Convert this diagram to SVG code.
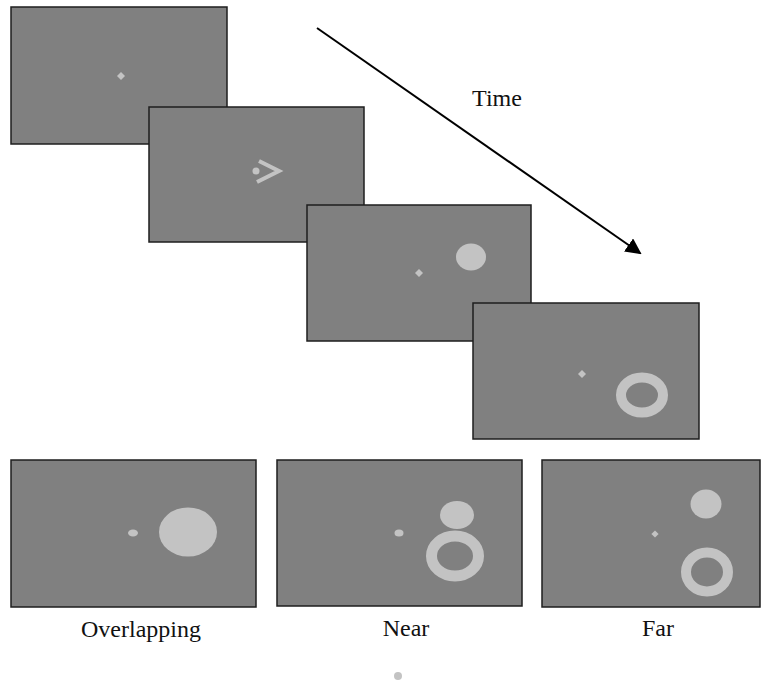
<svg xmlns="http://www.w3.org/2000/svg" width="761" height="681" viewBox="0 0 761 681">
  <style>
    .screen { fill: #808080; stroke: #1e1e1e; stroke-width: 1.5; }
    .stim { fill: #c3c3c3; }
    .ring { fill: none; stroke: #c3c3c3; }
    .label { font-family: "Liberation Serif", "Times New Roman", serif; font-size: 24px; fill: #111; text-anchor: middle; }
  </style>
  <defs>
    <marker id="arrowhead" markerWidth="8" markerHeight="8" refX="7" refY="4" orient="auto" markerUnits="strokeWidth">
      <path d="M0,0 L8,4 L0,8 Z" fill="#000"/>
    </marker>
    <path id="fix" d="M0,-4 L4,0 L0,4 L-4,0 Z"/>
  </defs>
  <rect width="761" height="681" fill="#fff"/>

  <!-- time-sequence screens -->
  <g id="screen-fixation">
    <rect class="screen" x="11" y="7" width="216" height="137"/>
    <use href="#fix" class="stim" x="121" y="76"/>
  </g>
  <g id="screen-cue">
    <rect class="screen" x="149" y="107" width="215" height="135"/>
    <circle class="stim" cx="256" cy="171" r="3.5"/>
    <polyline points="259,161 279,171 257,182" fill="none" stroke="#c3c3c3" stroke-width="4"/>
  </g>
  <g id="screen-disk">
    <rect class="screen" x="307" y="205" width="224" height="136"/>
    <use href="#fix" class="stim" x="419" y="273"/>
    <ellipse class="stim" cx="471" cy="257" rx="15" ry="13.5"/>
  </g>
  <g id="screen-ring">
    <rect class="screen" x="473" y="303" width="226" height="136"/>
    <use href="#fix" class="stim" x="582" y="374"/>
    <ellipse class="ring" cx="642" cy="395" rx="21" ry="17.5" stroke-width="10"/>
  </g>

  <!-- conditions -->
  <g id="cond-overlapping">
    <rect class="screen" x="11" y="460" width="245" height="147"/>
    <ellipse class="stim" cx="133" cy="533" rx="5" ry="3.5"/>
    <ellipse class="stim" cx="188" cy="532" rx="29" ry="24.5"/>
    <text class="label" x="141" y="637">Overlapping</text>
  </g>
  <g id="cond-near">
    <rect class="screen" x="277" y="460" width="245" height="146"/>
    <ellipse class="stim" cx="399" cy="533" rx="4.5" ry="3.5"/>
    <ellipse class="stim" cx="457" cy="515" rx="17" ry="14"/>
    <ellipse class="ring" cx="455" cy="556" rx="23.5" ry="20" stroke-width="11"/>
    <text class="label" x="406" y="636">Near</text>
  </g>
  <g id="cond-far">
    <rect class="screen" x="542" y="460" width="218" height="147"/>
    <use href="#fix" class="stim" x="655" y="534" transform="translate(655 534) scale(0.9) translate(-655 -534)"/>
    <ellipse class="stim" cx="706" cy="504" rx="15.5" ry="14.5"/>
    <ellipse class="ring" cx="707" cy="572" rx="21" ry="19.5" stroke-width="10"/>
    <text class="label" x="658" y="636">Far</text>
  </g>

  <g id="stray-dot">
    <circle class="stim" cx="398" cy="676" r="4"/>
  </g>

  <!-- time axis -->
  <g id="connectors">
    <line x1="317" y1="28" x2="640" y2="253" stroke="#000" stroke-width="2" marker-end="url(#arrowhead)"/>
  </g>
  <g id="time-label">
    <text class="label" x="497" y="106">Time</text>
  </g>
</svg>
